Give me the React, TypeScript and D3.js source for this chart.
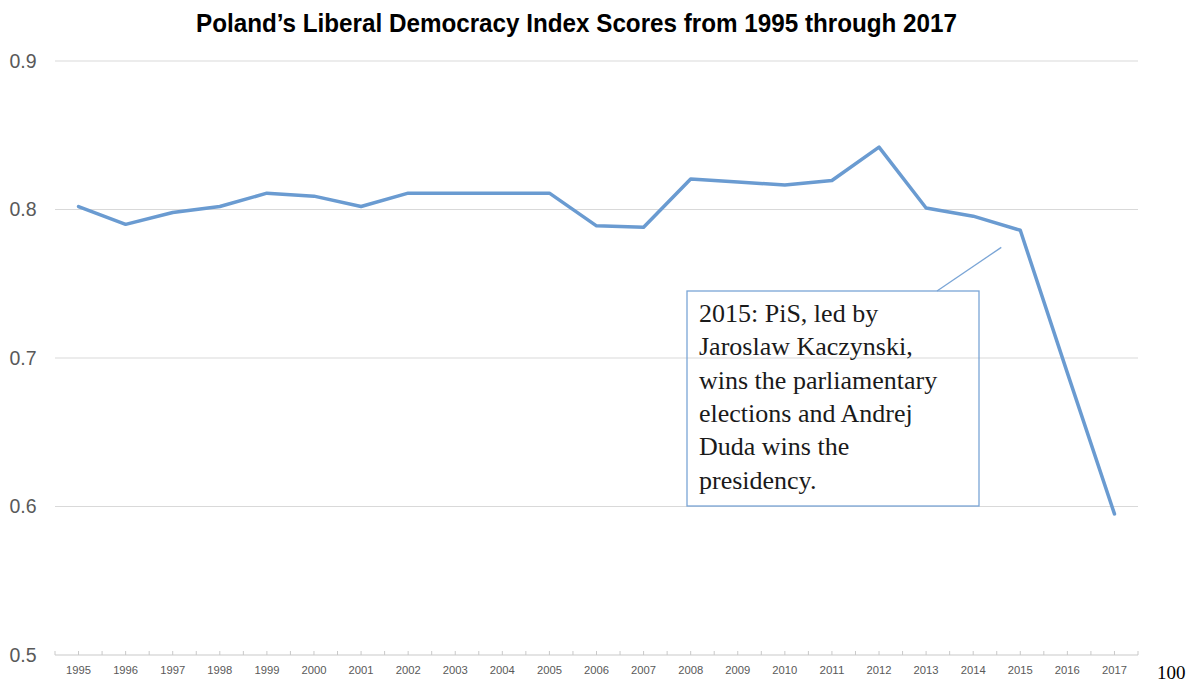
import React from "react";
import * as d3 from "d3";

const years: string[] = [
  "1995", "1996", "1997", "1998", "1999", "2000", "2001", "2002", "2003", "2004", "2005", "2006",
  "2007", "2008", "2009", "2010", "2011", "2012", "2013", "2014", "2015", "2016", "2017",
];
const scores: number[] = [
  0.802, 0.79, 0.798, 0.802, 0.811, 0.809, 0.802, 0.811, 0.811, 0.811, 0.811, 0.789,
  0.788, 0.8205, 0.8185, 0.8165, 0.8195, 0.842, 0.801, 0.7955, 0.786, 0.69, 0.595,
];
const yTicks: number[] = [0.5, 0.6, 0.7, 0.8, 0.9];
const title = "Poland\u2019s Liberal Democracy Index Scores from 1995 through 2017";
const noteLines: string[] = [
  "2015: PiS, led by",
  "Jaroslaw Kaczynski,",
  "wins the parliamentary",
  "elections and Andrej",
  "Duda wins the",
  "presidency.",
];
const pageNumber = "100";

const W = 1198;
const H = 682;

export default function App() {
  const x = d3.scaleBand<string>().domain(years).range([55, 1138]).padding(0);
  const y = d3.scaleLinear().domain([0.5, 0.9]).range([655, 61]);
  const bw = x.bandwidth();
  const cx = (yr: string) => (x(yr) as number) + bw / 2;

  const line = d3
    .line<number>()
    .x((_, i) => cx(years[i]))
    .y((d) => y(d));

  const tickXs: number[] = [];
  years.forEach((yr) => {
    tickXs.push(x(yr) as number);
    tickXs.push(cx(yr));
  });
  tickXs.push(1138);

  // annotation layout
  const box = { x: 687, y: 291, w: 292, h: 215 };
  const leaderEnd = { x: cx("2015") - 19, y: y(0.7745) };

  return (
    <svg
      width={W}
      height={H}
      viewBox={`0 0 ${W} ${H}`}
      style={{ position: "absolute", left: 0, top: 0, background: "#fff" }}
    >
      <rect x={0} y={0} width={W} height={H} fill="#fff" />
      <text
        x={576.5}
        y={31.5}
        textAnchor="middle"
        fontFamily="'Liberation Sans', Arial, sans-serif"
        fontWeight="bold"
        fontSize={25.5}
        textLength={761}
        lengthAdjust="spacingAndGlyphs"
        fill="#000"
      >
        {title}
      </text>

      {yTicks.map((t) => (
        <g key={t}>
          {t > 0.5 && (
            <line x1={55} x2={1138} y1={y(t)} y2={y(t)} stroke="#d9d9d9" strokeWidth={1} />
          )}
          <text
            x={36.5}
            y={y(t) + 6.8}
            textAnchor="end"
            fontFamily="'Liberation Sans', Arial, sans-serif"
            fontSize={19.5}
            fill="#595959"
          >
            {t.toFixed(1)}
          </text>
        </g>
      ))}

      <line x1={55} x2={1138} y1={y(0.5)} y2={y(0.5)} stroke="#c9c9c9" strokeWidth={1} />
      {tickXs.map((tx, i) => (
        <line key={i} x1={tx} x2={tx} y1={y(0.5)} y2={y(0.5) - 4} stroke="#c9c9c9" strokeWidth={1} />
      ))}
      {years.map((yr) => (
        <text
          key={yr}
          x={cx(yr)}
          y={674}
          textAnchor="middle"
          fontFamily="'Liberation Sans', Arial, sans-serif"
          fontSize={11.5}
          fill="#595959"
          textLength={25}
          lengthAdjust="spacingAndGlyphs"
        >
          {yr}
        </text>
      ))}

      <path
        d={line(scores) || ""}
        fill="none"
        stroke="#6a9bd1"
        strokeWidth={3.5}
        strokeLinejoin="round"
        strokeLinecap="round"
      />

      <line
        x1={937}
        y1={box.y}
        x2={leaderEnd.x}
        y2={leaderEnd.y}
        stroke="#7aa5d6"
        strokeWidth={1.3}
      />
      <rect
        x={box.x}
        y={box.y}
        width={box.w}
        height={box.h}
        fill="none"
        stroke="#7aa5d6"
        strokeWidth={1.3}
      />
      {noteLines.map((l, i) => (
        <text
          key={i}
          x={699}
          y={322 + i * 33.3}
          fontFamily="'Liberation Serif', 'Times New Roman', serif"
          fontSize={26}
          fill="#1a1a1a"
        >
          {l}
        </text>
      ))}

      <text
        x={1157}
        y={679}
        fontFamily="'Liberation Serif', 'Times New Roman', serif"
        fontSize={19}
        fill="#000"
      >
        {pageNumber}
      </text>
    </svg>
  );
}
